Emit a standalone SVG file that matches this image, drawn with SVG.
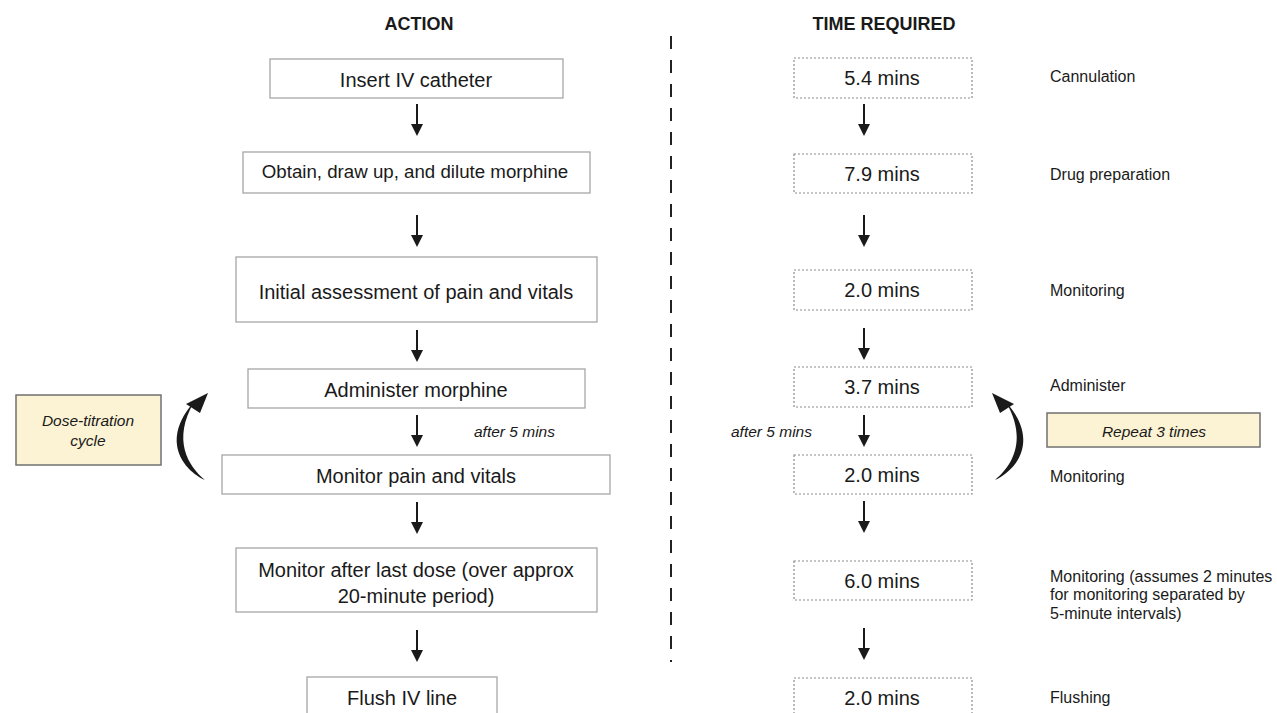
<svg xmlns="http://www.w3.org/2000/svg" width="1277" height="713" viewBox="0 0 1277 713">
<style>
text{font-family:"Liberation Sans",Arial,sans-serif;fill:#1a1a1a}
.h{font-weight:bold;font-size:18px}
.t{font-size:20px;text-anchor:middle}
.l{font-size:16px}
.i{font-style:italic;font-size:15.5px}
.box{fill:#fff;stroke:#a6a6a6;stroke-width:1.3}
.dbox{fill:#fff;stroke:#8c8c8c;stroke-width:1.2;stroke-dasharray:2 2}
.ybox{fill:#fcf3d4;stroke:#707070;stroke-width:1.5}
.ar{stroke:#1a1a1a;stroke-width:2}
.ah{fill:#1a1a1a}
</style>
<defs>
<g id="arr"><line class="ar" x1="0" y1="0" x2="0" y2="22"/><polygon class="ah" points="-6,20 6,20 0,32"/></g>
<g id="cyc"><path d="M205,480 C183,470 160,440 194,402 C172,440 188,466 205,480 Z" fill="#1a1a1a"/><path d="M186,404 L208,393 L200,413 Z" fill="#1a1a1a"/></g>
</defs>
<text class="h" x="419" y="30" text-anchor="middle">ACTION</text>
<text class="h" x="884" y="30" text-anchor="middle">TIME REQUIRED</text>
<line x1="671" y1="36" x2="671" y2="662" stroke="#222" stroke-width="2" stroke-dasharray="13 11"/>
<g id="n1"><rect class="box" x="270" y="59" width="293" height="39"/><text class="t" x="416" y="87">Insert IV catheter</text></g>
<g id="n2"><rect class="box" x="243" y="152" width="347" height="41"/><text x="415" y="178" text-anchor="middle" style="font-size:18.7px">Obtain, draw up, and dilute morphine</text></g>
<g id="n3"><rect class="box" x="236" y="257" width="361" height="65"/><text class="t" x="416" y="299">Initial assessment of pain and vitals</text></g>
<g id="n4"><rect class="box" x="248" y="369" width="337" height="39"/><text class="t" x="416" y="397">Administer morphine</text></g>
<g id="n5"><rect class="box" x="222" y="455" width="388" height="39"/><text class="t" x="416" y="483">Monitor pain and vitals</text></g>
<g id="n6"><rect class="box" x="236" y="548" width="361" height="64"/><text class="t" x="416" y="577">Monitor after last dose (over approx</text><text class="t" x="416" y="603">20-minute period)</text></g>
<g id="n7"><rect class="box" x="307" y="677" width="190" height="40"/><text class="t" x="402" y="705">Flush IV line</text></g>
<g id="t1"><rect class="dbox" x="794" y="58" width="178" height="40"/><text class="t" x="882" y="85">5.4 mins</text></g>
<g id="t2"><rect class="dbox" x="794" y="154" width="178" height="39"/><text class="t" x="882" y="181">7.9 mins</text></g>
<g id="t3"><rect class="dbox" x="794" y="270" width="178" height="40"/><text class="t" x="882" y="297">2.0 mins</text></g>
<g id="t4"><rect class="dbox" x="794" y="367" width="178" height="40"/><text class="t" x="882" y="394">3.7 mins</text></g>
<g id="t5"><rect class="dbox" x="794" y="455" width="178" height="39"/><text class="t" x="882" y="482">2.0 mins</text></g>
<g id="t6"><rect class="dbox" x="794" y="561" width="178" height="39"/><text class="t" x="882" y="588">6.0 mins</text></g>
<g id="t7"><rect class="dbox" x="794" y="678" width="178" height="40"/><text class="t" x="882" y="705">2.0 mins</text></g>
<g id="labels">
<text class="l" x="1050" y="82">Cannulation</text>
<text class="l" x="1050" y="180">Drug preparation</text>
<text class="l" x="1050" y="296">Monitoring</text>
<text class="l" x="1050" y="391">Administer</text>
<text class="l" x="1050" y="482">Monitoring</text>
<text class="l" x="1050" y="582">Monitoring (assumes 2 minutes</text>
<text class="l" x="1050" y="600">for monitoring separated by</text>
<text class="l" x="1050" y="619">5-minute intervals)</text>
<text class="l" x="1050" y="703">Flushing</text>
</g>
<g id="dose"><rect class="ybox" x="16" y="395" width="145" height="70"/><text class="i" x="88" y="426" text-anchor="middle">Dose-titration</text><text class="i" x="88" y="446" text-anchor="middle">cycle</text></g>
<g id="repeat"><rect class="ybox" x="1047" y="413" width="213" height="34"/><text class="i" x="1154" y="437" text-anchor="middle">Repeat 3 times</text></g>
<g id="connectors">
<use href="#arr" x="417" y="104"/>
<use href="#arr" x="417" y="215"/>
<use href="#arr" x="417" y="330"/>
<use href="#arr" x="417" y="415"/>
<use href="#arr" x="417" y="502"/>
<use href="#arr" x="417" y="630"/>
<use href="#arr" x="864" y="104"/>
<use href="#arr" x="864" y="215"/>
<use href="#arr" x="864" y="328"/>
<use href="#arr" x="864" y="415"/>
<use href="#arr" x="864" y="501"/>
<use href="#arr" x="864" y="628"/>
<use href="#cyc"/>
<use href="#cyc" transform="translate(1200,0) scale(-1,1)"/>
<text class="i" x="474" y="437">after 5 mins</text>
<text class="i" x="731" y="437">after 5 mins</text>
</g>
</svg>
